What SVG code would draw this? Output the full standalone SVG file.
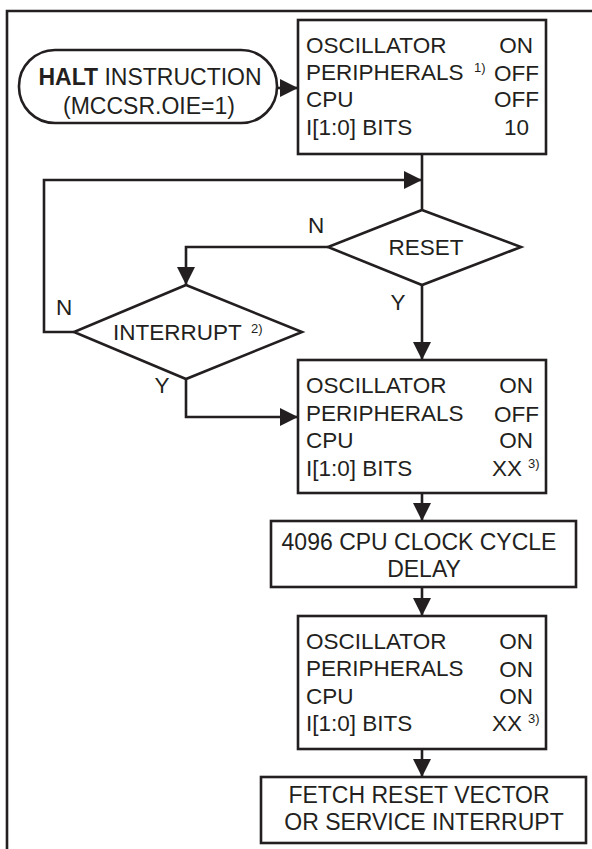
<svg xmlns="http://www.w3.org/2000/svg" width="592" height="849" viewBox="0 0 592 849">
<defs>
<style>
.box{fill:#fff;stroke:#231f20;stroke-width:2.6}
.ln{fill:none;stroke:#231f20;stroke-width:2.6}
.ar{marker-end:url(#ah)}
text{font-family:"Liberation Sans",Arial,sans-serif;font-size:22.5px;fill:#231f20}
.big{font-size:23px}
.sup{font-size:13px}
.m{text-anchor:middle}
.e{text-anchor:end}
</style>
<marker id="ah" markerUnits="userSpaceOnUse" markerWidth="18" markerHeight="18" refX="18" refY="9" orient="auto">
<path d="M0,0 L18,9 L0,18 z" fill="#231f20"/>
</marker>
</defs>
<rect width="592" height="849" fill="#fff"/>
<path class="ln" d="M7,849 V11 H592" stroke-width="2.8"/>

<g id="connectors">
<path class="ln ar" d="M277,88 H298"/>
<path class="ln" d="M422,154 V210"/>
<path class="ln ar" d="M74,332 H44 V180 H422"/>
<path class="ln ar" d="M328,247 H186 V285"/>
<path class="ln ar" d="M422,285 V360"/>
<path class="ln ar" d="M186,379 V417 H298"/>
<path class="ln ar" d="M422,493 V521"/>
<path class="ln ar" d="M422,587 V616"/>
<path class="ln ar" d="M422,749 V777"/>
<text class="m" x="316" y="233">N</text>
<text class="m" x="64" y="315">N</text>
<text class="m" x="398" y="310">Y</text>
<text class="m" x="162" y="393">Y</text>
</g>

<g id="halt">
<rect class="box" x="19" y="50" width="258" height="73" rx="36" ry="36"/>
<text class="m big" x="150" y="85"><tspan font-weight="bold">HALT</tspan> INSTRUCTION</text>
<text class="m big" x="149" y="114">(MCCSR.OIE=1)</text>
</g>

<g id="state1">
<rect class="box" x="298" y="20" width="248" height="134"/>
<text x="306" y="53">OSCILLATOR</text>
<text class="e" x="533" y="53">ON</text>
<text x="306" y="80">PERIPHERALS</text>
<text class="sup" x="474" y="72">1)</text>
<text class="e" x="539" y="81">OFF</text>
<text x="306" y="107">CPU</text>
<text class="e" x="539" y="107">OFF</text>
<text x="306" y="135">I[1:0] BITS</text>
<text class="e" x="529" y="135">10</text>
</g>

<g id="reset">
<polygon class="box" points="422,210 521,247 422,285 328,247"/>
<text class="m" x="426" y="255">RESET</text>
</g>

<g id="interrupt">
<polygon class="box" points="186,285 302,332 186,379 74,332"/>
<text x="113" y="340">INTERRUPT</text>
<text class="sup" x="251" y="333">2)</text>
</g>

<g id="state2">
<rect class="box" x="298" y="360" width="248" height="133"/>
<text x="306" y="393">OSCILLATOR</text>
<text class="e" x="533" y="393">ON</text>
<text x="306" y="421">PERIPHERALS</text>
<text class="e" x="539" y="422">OFF</text>
<text x="306" y="448">CPU</text>
<text class="e" x="533" y="448">ON</text>
<text x="306" y="476">I[1:0] BITS</text>
<text class="e" x="522" y="476">XX</text>
<text class="sup" x="528" y="468">3)</text>
</g>

<g id="delay">
<rect class="box" x="271" y="521" width="305" height="66"/>
<text class="m big" x="419" y="550">4096 CPU CLOCK CYCLE</text>
<text class="m big" x="424" y="577">DELAY</text>
</g>

<g id="state3">
<rect class="box" x="298" y="616" width="248" height="133"/>
<text x="306" y="649">OSCILLATOR</text>
<text class="e" x="533" y="649">ON</text>
<text x="306" y="676">PERIPHERALS</text>
<text class="e" x="533" y="677">ON</text>
<text x="306" y="704">CPU</text>
<text class="e" x="533" y="704">ON</text>
<text x="306" y="731">I[1:0] BITS</text>
<text class="e" x="522" y="731">XX</text>
<text class="sup" x="528" y="723">3)</text>
</g>

<g id="fetch">
<rect class="box" x="261" y="777" width="325" height="66"/>
<text class="m big" x="419" y="803">FETCH RESET VECTOR</text>
<text class="m big" x="424" y="830">OR SERVICE INTERRUPT</text>
</g>
</svg>
